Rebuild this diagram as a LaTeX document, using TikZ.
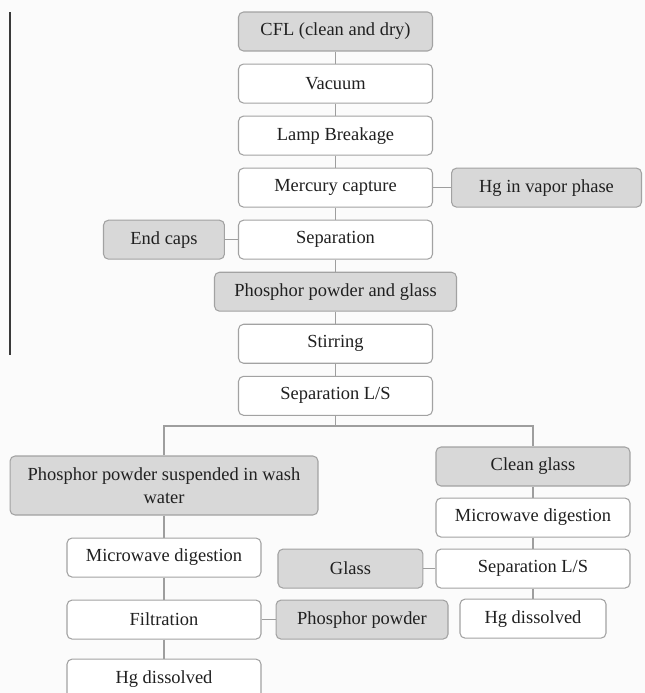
\documentclass[tikz,border=0pt]{standalone}
\usepackage{fontspec}
\setmainfont{Liberation Serif}
\usepackage{tikz}
\usetikzlibrary{positioning}

\begin{document}
\begin{tikzpicture}[
    x=0.02cm, y=-0.02cm,
    node distance=0.24cm,
]

% ── Colors ──
\definecolor{pagebg}{HTML}{FBFBFB}
\definecolor{boxborder}{HTML}{A2A2A2}
\definecolor{matfill}{HTML}{D8D8D8}
\definecolor{linkcolor}{HTML}{9E9E9E}
\definecolor{textcolor}{HTML}{202020}
\definecolor{barcolor}{HTML}{3A3A3A}

\tikzset{
    procbox/.style={rectangle, rounded corners=0.1cm, draw=boxborder, fill=white,
        line width=0.6pt, minimum width=3.88cm, minimum height=0.78cm,
        inner sep=2pt, align=center, text=textcolor,
        font=\fontsize{10.5}{13}\selectfont},
    matbox/.style={procbox, fill=matfill},
    link/.style={draw=linkcolor, line width=0.6pt},
}

\fill[pagebg] (0,0) rectangle (645,693);
\useasboundingbox (0,0) rectangle (645,693);

% left bar
\draw[barcolor, line width=1.2pt] (10,12) -- (10,355);

% ══════════════════════════════════════════════
% Main chain
% ══════════════════════════════════════════════
\node[matbox] (cfl) at (335.5,31.5) {CFL (clean and dry)};
\node[procbox, below=0.24cm of cfl] (vacuum) {Vacuum};
\node[procbox, below=0.24cm of vacuum] (breakage) {Lamp Breakage};
\node[procbox, below=0.24cm of breakage] (capture) {Mercury capture};
\node[procbox, below=0.24cm of capture] (separation) {Separation};
\node[matbox, minimum width=4.84cm, below=0.24cm of separation] (ppglass) {Phosphor powder and glass};
\node[procbox, below=0.24cm of ppglass] (stirring) {Stirring};
\node[procbox, below=0.24cm of stirring] (seplsA) {Separation L/S};

% side products
\node[matbox, minimum width=3.8cm, right=0.36cm of capture] (hgvapor) {Hg in vapor phase};
\node[matbox, minimum width=2.42cm, left=0.26cm of separation] (endcaps) {End caps};

% ══════════════════════════════════════════════
% Left branch: powder in wash water
% ══════════════════════════════════════════════
\node[matbox, minimum width=6.16cm, minimum height=1.18cm] (ppsusp) at (164,485.5)
    {Phosphor powder suspended in wash\\water};
\node[procbox, below=0.44cm of ppsusp] (mwdigA) {Microwave digestion};
\node[procbox, below=0.44cm of mwdigA] (filtration) {Filtration};
\node[procbox, below=0.38cm of filtration] (hgdissA) {Hg dissolved};
\node[matbox, minimum width=3.44cm, right=0.28cm of filtration] (ppowder) {Phosphor powder};

% ══════════════════════════════════════════════
% Right branch: glass
% ══════════════════════════════════════════════
\node[matbox] (cleanglass) at (533,466.5) {Clean glass};
\node[procbox, below=0.22cm of cleanglass] (mwdigB) {Microwave digestion};
\node[procbox, below=0.22cm of mwdigB] (seplsB) {Separation L/S};
\node[procbox, minimum width=2.92cm, below=0.2cm of seplsB] (hgdissB) {Hg dissolved};
\node[matbox, minimum width=2.9cm, left=0.24cm of seplsB] (glass) {Glass};

% ══════════════════════════════════════════════
% Connectors
% ══════════════════════════════════════════════
\draw[link] (cfl) -- (vacuum);
\draw[link] (vacuum) -- (breakage);
\draw[link] (breakage) -- (capture);
\draw[link] (capture) -- (separation);
\draw[link] (separation) -- (ppglass);
\draw[link] (ppglass) -- (stirring);
\draw[link] (stirring) -- (seplsA);
\draw[link] (capture) -- (hgvapor);
\draw[link] (separation) -- (endcaps);

\coordinate (split) at (335.5,426);
\draw[link] (seplsA) -- (split);
\draw[link] (ppsusp.north) |- (split) -| (cleanglass.north);

\draw[link] (ppsusp) -- (mwdigA);
\draw[link] (mwdigA) -- (filtration);
\draw[link] (filtration) -- (hgdissA);
\draw[link] (filtration) -- (ppowder);

\draw[link] (cleanglass) -- (mwdigB);
\draw[link] (mwdigB) -- (seplsB);
\draw[link] (seplsB) -- (hgdissB);
\draw[link] (seplsB) -- (glass);

\end{tikzpicture}
\end{document}
